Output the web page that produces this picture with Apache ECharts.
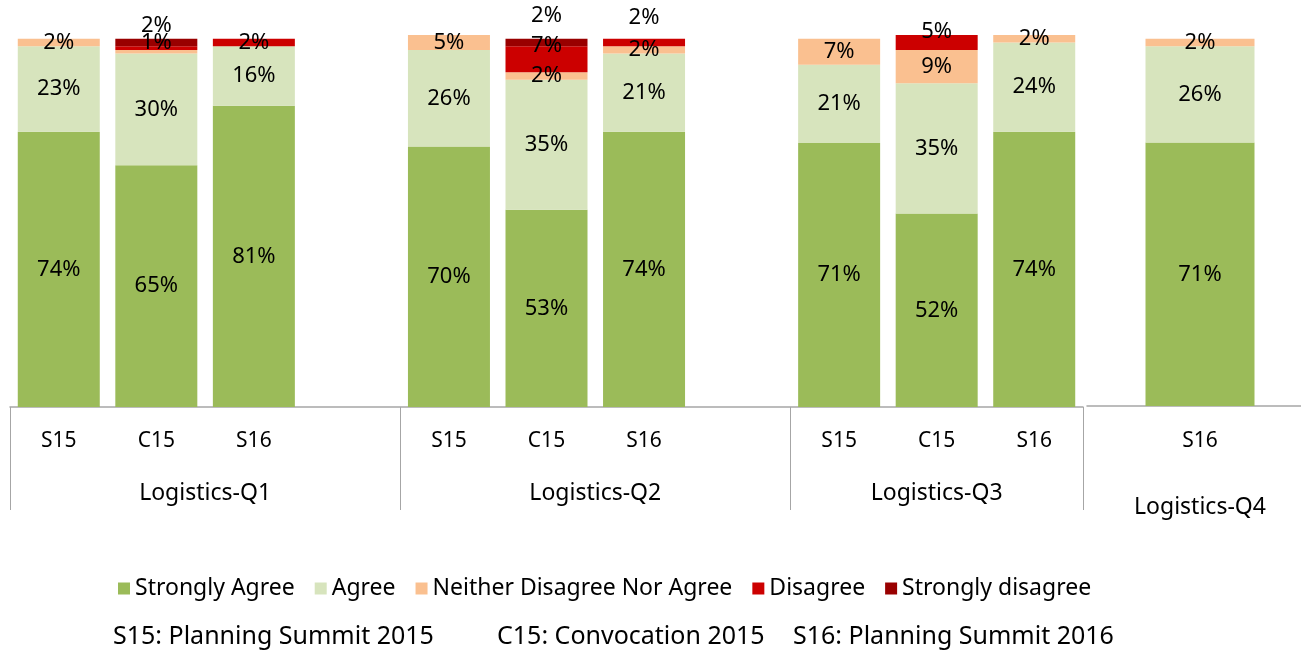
<!DOCTYPE html>
<html lang="en">
<head>
    <meta charset="UTF-8">
    <title>Logistics survey</title>
    <script src="https://cdn.jsdelivr.net/npm/echarts@6.0.0/dist/echarts.min.js"></script>
    <style>
        html, body { margin: 0; padding: 0; background: #fff; }
        #chart { width: 1301px; height: 652px; }
    </style>
</head>
<body>
    <div id="chart"></div>
    <script>
        // Q1-Q3 share one axis, blank slot between groups
        const sessions = ['S15', 'C15', 'S16', '', 'S15', 'C15', 'S16', '', 'S15', 'C15', 'S16'];
        const groups = ['Logistics-Q1', 'Logistics-Q2', 'Logistics-Q3'];
        const groupSlots = [4, 4, 3];

        const stronglyAgree    = [74, 65, 81, null, 70, 53, 74, null, 71, 52, 74];
        const agree            = [23, 30, 16, null, 26, 35, 21, null, 21, 35, 24];
        const neither          = [2, 1, 0, null, 5, 2, 2, null, 7, 9, 2];
        const disagree         = [0, 1, 2, null, 0, 7, 2, null, 0, 5, 0];
        const stronglyDisagree = [0, 2, 0, null, 0, 2, 0, null, 0, 0, 0];

        // Q4 sits in its own little chart on the right
        const q4Sessions = ['S16'];
        const q4Group = ['Logistics-Q4'];
        const q4StronglyAgree = [71];
        const q4Agree = [26];
        const q4Neither = [2];
        const q4Disagree = [0];
        const q4StronglyDisagree = [0];

        const names = ['Strongly Agree', 'Agree', 'Neither Disagree Nor Agree', 'Disagree', 'Strongly disagree'];
        const colors = ['#9BBB59', '#D7E4BD', '#FAC090', '#CC0000', '#990000'];

        // label nudges where the original labels were moved by hand
        const labelShift = {
            'Disagree': { 1: -5, 5: -13, 6: -25, 9: -11 },
            'Strongly disagree': { 1: -17, 5: -27 }
        };
        const labelHidden = { 'Neither Disagree Nor Agree': [1] };

        const font = 'Noto Sans';

        // group axis: half-slot points, labels at group centres, ticks at borders
        const groupAxis = new Array(sessions.length * 2 + 1).fill('');
        const borders = [0];
        let start = 0;
        groupSlots.forEach((n, i) => {
            groupAxis[start + n] = groups[i];
            start += n * 2;
            borders.push(start);
        });

        function buildData(name, values) {
            const shift = labelShift[name] || {};
            const hidden = labelHidden[name] || [];
            return values.map((v, i) => {
                if (v === null) return null;
                const item = { value: v };
                if (hidden.includes(i)) item.label = { show: false };
                else if (shift[i] !== undefined) item.label = { offset: [0, shift[i]] };
                return item;
            });
        }

        const mainValues = [stronglyAgree, agree, neither, disagree, stronglyDisagree];
        const q4Values = [q4StronglyAgree, q4Agree, q4Neither, q4Disagree, q4StronglyDisagree];

        const label = {
            show: true,
            position: 'inside',
            color: '#000',
            fontFamily: font,
            fontSize: 22,
            formatter: p => (p.value ? p.value + '%' : '')
        };

        const series = [];
        names.forEach((name, k) => {
            series.push({
                name: name,
                type: 'bar',
                stack: 'main',
                xAxisIndex: 0,
                yAxisIndex: 0,
                barWidth: 82,
                itemStyle: { color: colors[k] },
                label: label,
                data: buildData(name, mainValues[k])
            });
        });
        names.forEach((name, k) => {
            series.push({
                name: name,
                type: 'bar',
                stack: 'q4',
                xAxisIndex: 2,
                yAxisIndex: 1,
                barWidth: 109,
                itemStyle: { color: colors[k] },
                label: label,
                data: q4Values[k]
            });
        });

        const chart = echarts.init(document.getElementById('chart'));
        const axisGray = '#A6A6A6';
        const option = {
            animation: false,
            title: [
                { text: 'S15: Planning Summit 2015', left: 113, top: 624 },
                { text: 'C15: Convocation 2015', left: 497, top: 624 },
                { text: 'S16: Planning Summit 2016', left: 793, top: 624 }
            ].map(t => Object.assign(t, {
                padding: 0,
                textStyle: { fontFamily: font, fontSize: 25, fontWeight: 'normal', color: '#000' }
            })),
            legend: {
                data: names,
                left: 113,
                top: 572,
                itemWidth: 12,
                itemHeight: 12,
                itemGap: 20,
                icon: 'rect',
                textStyle: { fontFamily: font, fontSize: 23, color: '#000', padding: [0, 0, 0, 0] }
            },
            grid: [
                { left: 10, right: 218, top: 35, bottom: 245, outerBoundsMode: 'none' },
                { left: 1087, right: -12, top: 35, bottom: 246, outerBoundsMode: 'none' }
            ],
            xAxis: [
                {
                    type: 'category',
                    gridIndex: 0,
                    position: 'bottom',
                    data: sessions,
                    axisLine: { lineStyle: { color: axisGray, width: 1.5 } },
                    axisTick: { show: false },
                    axisLabel: { interval: 0, margin: 24, color: '#000', fontFamily: font, fontSize: 21 }
                },
                {
                    type: 'category',
                    gridIndex: 0,
                    position: 'bottom',
                    boundaryGap: false,
                    data: groupAxis,
                    axisLine: { show: false },
                    axisTick: {
                        show: true,
                        length: 103,
                        interval: i => borders.includes(i),
                        lineStyle: { color: axisGray, width: 1 }
                    },
                    axisLabel: { interval: 0, margin: 75, color: '#000', fontFamily: font, fontSize: 23 }
                },
                {
                    type: 'category',
                    gridIndex: 1,
                    position: 'bottom',
                    data: q4Sessions,
                    axisLine: { lineStyle: { color: axisGray, width: 1.5 } },
                    axisTick: { show: false },
                    axisLabel: { interval: 0, margin: 25, color: '#000', fontFamily: font, fontSize: 21 }
                },
                {
                    type: 'category',
                    gridIndex: 1,
                    position: 'bottom',
                    data: q4Group,
                    axisLine: { show: false },
                    axisTick: { show: false },
                    axisLabel: { interval: 0, margin: 90, color: '#000', fontFamily: font, fontSize: 23 }
                }
            ],
            yAxis: [
                { type: 'value', gridIndex: 0, min: 0, max: 100, show: false },
                { type: 'value', gridIndex: 1, min: 0, max: 100, show: false }
            ],
            series: series
        };
        chart.setOption(option);
    </script>
</body>
</html>
